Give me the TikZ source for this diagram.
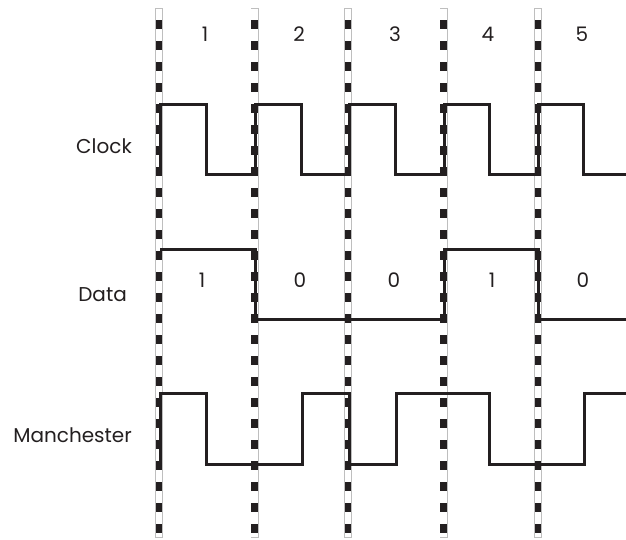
\documentclass[tikz,border=0pt]{standalone}
\usepackage{fontspec}
\setmainfont{Poppins}
\usepackage{tikz}
\usetikzlibrary{positioning}
\definecolor{ink1}{RGB}{35, 31, 32}
\definecolor{rim1}{RGB}{190, 190, 190}

\tikzset{
  boundary/.style={ink1, line width=6.5pt, dash pattern=on 9pt off 12pt, dash phase=9pt},
  signal/.style={ink1, line width=3pt, line join=miter},
  lbl/.style={text=ink1, inner sep=0pt, font=\fontsize{20}{24}\selectfont}
}

\begin{document}
\begin{tikzpicture}[x=1pt, y=-1pt]
  \useasboundingbox (0,0) rectangle (626,539);

  % bit boundaries
  \foreach \x in {159,254.5,348,443.5,538} {
    \draw[rim1, line width=8pt] (\x,8) -- (\x,538);
    \draw[white, line width=6.5pt] (\x,8.75) -- (\x,537.25);
    \draw[boundary] (\x,8) -- (\x,538);
  }

  % bit numbers
  \foreach \x/\n in {205/1,299/2,395/3,488/4,582/5}
    \node[lbl, anchor=base] (num\n) at (\x,41) {\n};

  % row labels
  \node[lbl, anchor=base east] (clock) at (132,153) {Clock};
  \node[lbl, anchor=base east] (data) at (127,301) {Data};
  \node[lbl, anchor=base east] (manchester) at (132,442) {Manchester};

  % data bits
  \foreach \x/\b [count=\i] in {202/1,300/0,394/0,492/1,583/0}
    \node[lbl, anchor=base] (bit\i) at (\x,287) {\b};

  % waveforms
  \draw[signal] (160,174) -- (160,104) -- (206,104) -- (206,174) -- (255,174) -- (255,104)
    -- (301,104) -- (301,174) -- (349,174) -- (349,104) -- (395,104) -- (395,174)
    -- (444,174) -- (444,104) -- (489,104) -- (489,174) -- (538,174) -- (538,104)
    -- (583,104) -- (583,174) -- (626,174);
  \draw[signal] (160,249) -- (255,249) -- (255,319) -- (444,319) -- (444,249)
    -- (538,249) -- (538,319) -- (626,319);
  \draw[signal] (160,464) -- (160,393) -- (206,393) -- (206,464) -- (302,464) -- (302,393)
    -- (349,393) -- (349,464) -- (396,464) -- (396,393) -- (489,393) -- (489,464)
    -- (584,464) -- (584,393) -- (626,393);
\end{tikzpicture}
\end{document}
